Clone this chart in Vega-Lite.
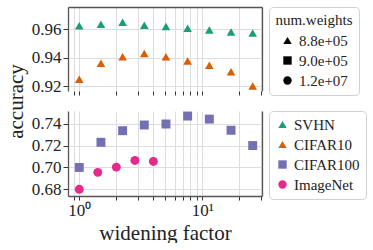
{
  "$schema": "https://vega.github.io/schema/vega-lite/v6.json",
  "padding": {"left": 5, "top": 6, "right": 0, "bottom": 0},
  "datasets": {
    "pts": [
      {"dataset": "SVHN", "wf": 1, "acc": 0.9624, "nw": "8.8e+05"},
      {"dataset": "SVHN", "wf": 1.5, "acc": 0.9635, "nw": "8.8e+05"},
      {"dataset": "SVHN", "wf": 2.25, "acc": 0.965, "nw": "8.8e+05"},
      {"dataset": "SVHN", "wf": 3.375, "acc": 0.9628, "nw": "8.8e+05"},
      {"dataset": "SVHN", "wf": 5.06, "acc": 0.962, "nw": "8.8e+05"},
      {"dataset": "SVHN", "wf": 7.59, "acc": 0.9607, "nw": "8.8e+05"},
      {"dataset": "SVHN", "wf": 11.39, "acc": 0.9595, "nw": "8.8e+05"},
      {"dataset": "SVHN", "wf": 17.09, "acc": 0.958, "nw": "8.8e+05"},
      {"dataset": "SVHN", "wf": 25.63, "acc": 0.9574, "nw": "8.8e+05"},
      {"dataset": "CIFAR10", "wf": 1, "acc": 0.9247, "nw": "8.8e+05"},
      {"dataset": "CIFAR10", "wf": 1.5, "acc": 0.936, "nw": "8.8e+05"},
      {"dataset": "CIFAR10", "wf": 2.25, "acc": 0.9407, "nw": "8.8e+05"},
      {"dataset": "CIFAR10", "wf": 3.375, "acc": 0.943, "nw": "8.8e+05"},
      {"dataset": "CIFAR10", "wf": 5.06, "acc": 0.9407, "nw": "8.8e+05"},
      {"dataset": "CIFAR10", "wf": 7.59, "acc": 0.9376, "nw": "8.8e+05"},
      {"dataset": "CIFAR10", "wf": 11.39, "acc": 0.9346, "nw": "8.8e+05"},
      {"dataset": "CIFAR10", "wf": 17.09, "acc": 0.930, "nw": "8.8e+05"},
      {"dataset": "CIFAR10", "wf": 25.63, "acc": 0.920, "nw": "8.8e+05"},
      {"dataset": "CIFAR100", "wf": 1, "acc": 0.700, "nw": "9.0e+05"},
      {"dataset": "CIFAR100", "wf": 1.5, "acc": 0.723, "nw": "9.0e+05"},
      {"dataset": "CIFAR100", "wf": 2.25, "acc": 0.7336, "nw": "9.0e+05"},
      {"dataset": "CIFAR100", "wf": 3.375, "acc": 0.7388, "nw": "9.0e+05"},
      {"dataset": "CIFAR100", "wf": 5.06, "acc": 0.7397, "nw": "9.0e+05"},
      {"dataset": "CIFAR100", "wf": 7.59, "acc": 0.747, "nw": "9.0e+05"},
      {"dataset": "CIFAR100", "wf": 11.39, "acc": 0.7442, "nw": "9.0e+05"},
      {"dataset": "CIFAR100", "wf": 17.09, "acc": 0.734, "nw": "9.0e+05"},
      {"dataset": "CIFAR100", "wf": 25.63, "acc": 0.720, "nw": "9.0e+05"},
      {"dataset": "ImageNet", "wf": 1, "acc": 0.680, "nw": "1.2e+07"},
      {"dataset": "ImageNet", "wf": 1.414, "acc": 0.6955, "nw": "1.2e+07"},
      {"dataset": "ImageNet", "wf": 2, "acc": 0.7003, "nw": "1.2e+07"},
      {"dataset": "ImageNet", "wf": 2.83, "acc": 0.7064, "nw": "1.2e+07"},
      {"dataset": "ImageNet", "wf": 4, "acc": 0.7055, "nw": "1.2e+07"}
    ]
  },
  "spacing": 20,
  "bounds": "flush",
  "vconcat": [
    {
      "width": 194,
      "height": 84,
      "data": {"name": "pts"},
      "transform": [{"filter": "datum.dataset == 'SVHN' || datum.dataset == 'CIFAR10'"}],
      "layer": [
        {
          "mark": {"type": "point", "filled": true, "size": 75, "opacity": 1},
          "encoding": {
            "x": {
              "field": "wf", "type": "quantitative",
              "scale": {"type": "log", "domain": [0.81, 30.5]},
              "axis": {"values": [0.9, 1, 2, 3, 4, 5, 6, 7, 8, 9, 10, 20, 30], "labels": false, "domain": false, "ticks": true, "tickSize": 4, "grid": true, "title": null}
            },
            "y": {
              "field": "acc", "type": "quantitative",
              "scale": {"domain": [0.9165, 0.9757], "zero": false},
              "axis": {"values": [0.92, 0.94, 0.96], "format": ".2f", "title": "accuracy", "titleY": 94, "titlePadding": 5, "labelPadding": 2}
            },
            "color": {
              "field": "dataset", "type": "nominal",
              "scale": {"domain": ["SVHN", "CIFAR10", "CIFAR100", "ImageNet"], "range": ["#1b9e77", "#d95f02", "#7570b3", "#e7298a"]},
              "legend": null
            },
            "shape": {
              "field": "nw", "type": "nominal",
              "scale": {"domain": ["8.8e+05", "9.0e+05", "1.2e+07"], "range": ["triangle-up", "square", "circle"]},
              "legend": {"title": "num.weights", "symbolFillColor": "black", "symbolStrokeColor": "black", "titleAnchor": "middle"}
            }
          }
        },
        {
          "mark": {"type": "point", "opacity": 0},
          "encoding": {
            "x": {
              "field": "wf", "type": "quantitative",
              "scale": {"type": "log", "domain": [0.81, 30.5]},
              "axis": {"orient": "top", "labels": false, "ticks": false, "grid": false, "domain": true, "title": null}
            },
            "y": {
              "field": "acc", "type": "quantitative",
              "scale": {"domain": [0.9165, 0.9757], "zero": false},
              "axis": {"orient": "right", "labels": false, "ticks": false, "grid": false, "domain": true, "title": null}
            }
          }
        }
      ],
      "resolve": {"scale": {"x": "independent", "y": "independent"}}
    },
    {
      "width": 194,
      "height": 85,
      "data": {"name": "pts"},
      "transform": [{"filter": "datum.dataset == 'CIFAR100' || datum.dataset == 'ImageNet'"}],
      "layer": [
        {
          "mark": {"type": "point", "filled": true, "size": 80, "opacity": 1},
          "encoding": {
            "x": {
              "field": "wf", "type": "quantitative",
              "scale": {"type": "log", "domain": [0.81, 30.5]},
              "axis": {"values": [0.9, 1, 2, 3, 4, 5, 6, 7, 8, 9, 10, 20, 30], "labelExpr": "datum.value == 1 ? '10⁰' : datum.value == 10 ? '10¹' : ''", "tickSize": 4, "grid": true, "title": "widening factor", "labelPadding": 2, "titlePadding": 4}
            },
            "y": {
              "field": "acc", "type": "quantitative",
              "scale": {"domain": [0.6739, 0.7516], "zero": false},
              "axis": {"values": [0.68, 0.70, 0.72, 0.74], "format": ".2f", "title": null, "labelPadding": 2}
            },
            "color": {
              "field": "dataset", "type": "nominal",
              "scale": {"domain": ["SVHN", "CIFAR10", "CIFAR100", "ImageNet"], "range": ["#1b9e77", "#d95f02", "#7570b3", "#e7298a"]},
              "legend": {"title": null}
            },
            "shape": {
              "field": "dataset", "type": "nominal",
              "scale": {"domain": ["SVHN", "CIFAR10", "CIFAR100", "ImageNet"], "range": ["triangle-up", "triangle-up", "square", "circle"]},
              "legend": {"title": null}
            }
          }
        },
        {
          "mark": {"type": "point", "opacity": 0},
          "encoding": {
            "x": {"field": "wf", "type": "quantitative", "scale": {"type": "log", "domain": [0.81, 30.5]}, "axis": null},
            "y": {
              "field": "acc", "type": "quantitative",
              "scale": {"domain": [0.6739, 0.7516], "zero": false},
              "axis": {"orient": "right", "labels": false, "ticks": false, "grid": false, "domain": true, "title": null}
            }
          }
        }
      ],
      "resolve": {"scale": {"x": "independent", "y": "independent"}}
    }
  ],
  "resolve": {"scale": {"shape": "independent", "color": "independent"}, "legend": {"shape": "independent", "color": "independent"}},
  "config": {
    "font": "Liberation Serif, serif",
    "view": {"stroke": null},
    "axis": {
      "labelFont": "Liberation Serif, serif", "labelFontSize": 17, "labelColor": "#222",
      "titleFont": "Liberation Serif, serif", "titleFontSize": 21, "titleFontWeight": "normal", "titleColor": "#222",
      "gridColor": "#dddddd", "gridWidth": 1,
      "domainColor": "#555555", "domainWidth": 1.3,
      "tickColor": "#333333", "tickSize": 5
    },
    "legend": {
      "labelFont": "Liberation Serif, serif", "labelFontSize": 15, "labelColor": "#222",
      "titleFont": "Liberation Serif, serif", "titleFontSize": 15, "titleFontWeight": "normal", "titleColor": "#222",
      "strokeColor": "#d0d0d0", "cornerRadius": 4, "padding": 6, "offset": 7,
      "rowPadding": 4, "symbolSize": 70, "symbolStrokeWidth": 0, "titlePadding": 5
    }
  }
}
